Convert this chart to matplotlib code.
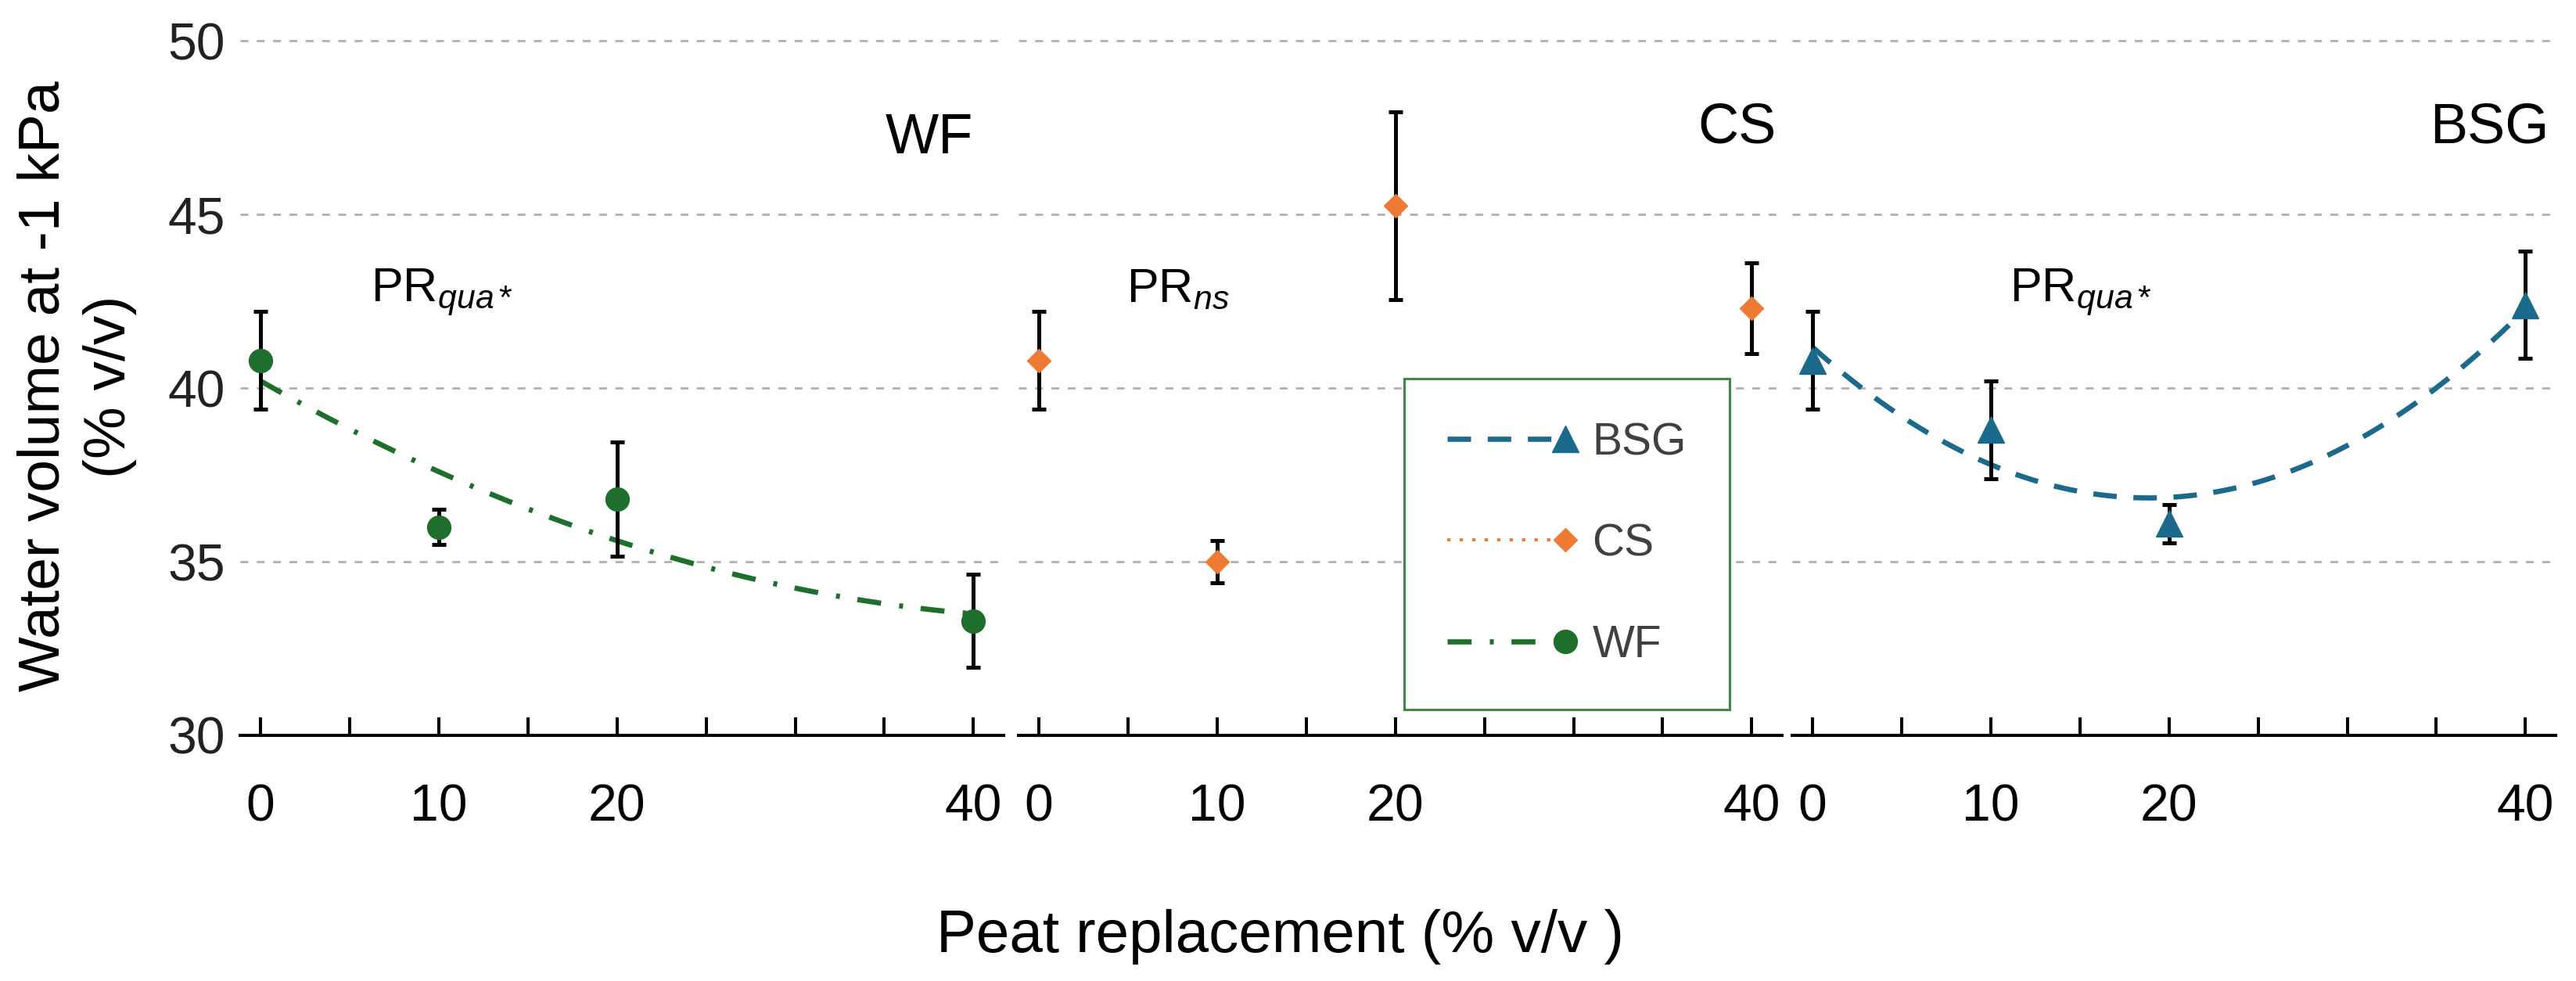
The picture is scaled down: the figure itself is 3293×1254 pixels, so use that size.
import numpy as np
import matplotlib
matplotlib.use("Agg")
import matplotlib.pyplot as plt
from matplotlib.lines import Line2D
from matplotlib.legend_handler import HandlerLine2D

plt.rcParams['font.family'] = ['Liberation Sans', 'DejaVu Sans']
plt.rcParams['mathtext.fontset'] = 'custom'
plt.rcParams['mathtext.rm'] = 'Liberation Sans'
plt.rcParams['mathtext.it'] = 'Liberation Sans:italic'

# ---------------- data ----------------
replacement = [0, 10, 20, 40]
panels = ["WF", "CS", "BSG"]
wf_mean = [40.8, 36.0, 36.8, 33.3]
wf_err = [1.4, 0.5, 1.65, 1.35]
cs_mean = [40.8, 35.0, 45.25, 42.3]
cs_err = [1.4, 0.6, 2.7, 1.3]
bsg_mean = [40.8, 38.8, 36.1, 42.4]
bsg_err = [1.4, 1.4, 0.55, 1.55]
pr_labels = [r"PR$_{\mathit{qua*}}$", r"PR$_{\mathit{ns}}$", r"PR$_{\mathit{qua*}}$"]
fitted = [True, False, True]
y_ticks = [30, 35, 40, 45, 50]
x_ticks = [0, 5, 10, 15, 20, 25, 30, 35, 40]
x_ticklabels = ["0", "", "10", "", "20", "", "", "", "40"]

GREEN = "#1d6f2b"
ORANGE = "#ee7a33"
BLUE = "#1b6a8c"
EDGE = "#3f8a46"

styles = {
    "WF": dict(mean=wf_mean, err=wf_err, color=GREEN, marker="o", ms=21.5,
               ls=(0, (4.6, 3.5, 0.75, 3.4)), lw=4.8),
    "CS": dict(mean=cs_mean, err=cs_err, color=ORANGE, marker="D", ms=15.5,
               ls=(0, (1.1, 3.0)), lw=2.8),
    "BSG": dict(mean=bsg_mean, err=bsg_err, color=BLUE, marker="^", ms=24,
                ls=(0, (4.5, 3.2)), lw=4.8),
}

W, H = 3293, 1254
fig = plt.figure(figsize=(W / 100, H / 100), dpi=100)

lefts = [307, 1302, 2291]
width_px = 976
top_px, bottom_px = 50, 940
title_pos = [(0.960, 0.836), (0.993, 0.851), (0.991, 0.851)]
pr_x = [6.18, 4.92, 11.04]

axes = []
for i, name in enumerate(panels):
    ax = fig.add_axes([lefts[i] / W, 1 - bottom_px / H, width_px / W,
                       (bottom_px - top_px) / H])
    axes.append(ax)
    st = styles[name]
    ax.set_xlim(-1.15, 41.7)
    ax.set_ylim(30, 50.05)
    ax.set_yticks(y_ticks)
    ax.set_xticks(x_ticks)
    ax.set_xticklabels(x_ticklabels)
    for s in ["top", "right", "left"]:
        ax.spines[s].set_visible(False)
    ax.spines["bottom"].set_linewidth(2.9)
    ax.tick_params(axis="x", direction="in", length=16.5, width=2.9,
                   pad=44, labelsize=47.5, colors="black")
    ax.tick_params(axis="y", length=0, pad=14, labelsize=47.5,
                   labelcolor="#222222")
    if i > 0:
        ax.tick_params(axis="y", labelleft=False)
    ax.set_axisbelow(True)
    ax.yaxis.grid(True, color="#b0b0b0", linestyle=(0, (3.6, 3.9)), linewidth=2.0)

    if fitted[i]:
        coef = np.polyfit(replacement, st["mean"], 2)
        xs = np.linspace(0, 40, 300)
        ax.plot(xs, np.polyval(coef, xs), color=st["color"], lw=st["lw"],
                linestyle=st["ls"], zorder=2.5, dash_capstyle="butt")
    ax.errorbar(replacement, st["mean"], yerr=st["err"], fmt="none",
                ecolor="black", elinewidth=3.6, capsize=6.2, capthick=3.6,
                zorder=2.6)
    ax.plot(replacement, st["mean"], linestyle="none", marker=st["marker"],
            ms=st["ms"], color=st["color"], mec=st["color"], zorder=3)

    ax.text(title_pos[i][0], title_pos[i][1], name, transform=ax.transAxes,
            ha="right", va="baseline", fontsize=52, color="black")
    ax.text(pr_x[i], 42.49, pr_labels[i], ha="left", va="baseline",
            fontsize=44, color="black")

fig.text(0.0298, 1 - 494 / H, "Water volume at -1 kPa\n(% v/v)", rotation=90,
         ha="center", va="center", multialignment="center", fontsize=54,
         linespacing=1.3)
fig.text(0.497, 1 - 1217 / H, "Peat replacement (% v/v )", ha="center",
         va="baseline", fontsize=55)


class EndMarker(HandlerLine2D):
    def create_artists(self, legend, orig_handle, xdescent, ydescent, width,
                       height, fontsize, trans):
        xd = np.linspace(-xdescent, -xdescent + width, 3)
        yd = np.full_like(xd, (height - ydescent) / 2)
        ln = Line2D(xd, yd)
        self.update_prop(ln, orig_handle, legend)
        ln.set_markevery([2])
        ln.set_transform(trans)
        return [ln]


handles = []
for name in ["BSG", "CS", "WF"]:
    st = styles[name]
    handles.append(Line2D([], [], color=st["color"], lw=st["lw"],
                          linestyle=st["ls"], marker=st["marker"],
                          ms=st["ms"], mec=st["color"]))
leg = fig.legend(handles, ["BSG", "CS", "WF"], loc="upper left",
                 bbox_to_anchor=(1795 / W, 1 - 484 / H), borderaxespad=0,
                 fontsize=41, labelcolor="#404040", frameon=True,
                 fancybox=False, edgecolor=EDGE, framealpha=1,
                 handlelength=2.65, handletextpad=0.6, borderpad=0.97,
                 labelspacing=1.32,
                 handler_map={Line2D: EndMarker()})
leg.get_frame().set_linewidth(2.2)

fig.savefig("out.png", dpi=100)
